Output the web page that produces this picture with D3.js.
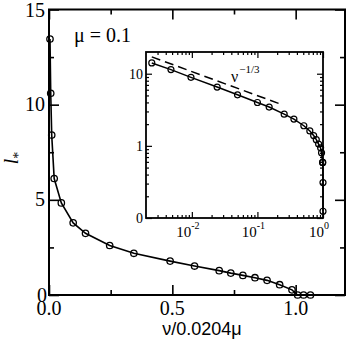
<!DOCTYPE html>
<html>
<head>
<meta charset="utf-8">
<script src="https://cdn.jsdelivr.net/npm/d3@7"></script>
<style>
  body { margin: 0; background: #fff; }
  svg { display: block; }
</style>
</head>
<body>
<div id="chart"></div>
<script>
// main plot: nu / 0.0204mu vs l*
var mainX = [0.004, 0.007, 0.011, 0.021, 0.050, 0.098, 0.148, 0.246, 0.344, 0.491,
             0.590, 0.690, 0.737, 0.786, 0.835, 0.884, 0.935, 0.985, 1.008, 1.032, 1.060];
var mainY = [13.45, 10.6, 8.4, 6.12, 4.84, 3.79, 3.24, 2.60, 2.19, 1.78,
             1.52, 1.28, 1.15, 1.03, 0.91, 0.77, 0.54, 0.27, 0.0, 0.0, 0.0];

// inset (log-log)
var insetX = [0.00245, 0.0048, 0.0097, 0.0243, 0.0497, 0.100, 0.151, 0.256, 0.360, 0.510,
              0.630, 0.720, 0.790, 0.857, 0.919, 0.950, 0.985, 0.992, 1.0, 1.0];
var insetY = [14.1, 11.4, 8.9, 6.53, 5.1, 3.99, 3.45, 2.75, 2.35, 1.90,
              1.61, 1.39, 1.22, 1.06, 0.94, 0.80, 0.59, 0.59, 0.31, 0.124];

// nu^-1/3 guide line end points
var guideX = [0.00245, 0.237];
var guideY = [17.1, 3.73];

var mainXTicks = [0, 0.5, 1.0];
var mainXTickLabels = ["0.0", "0.5", "1.0"];
var mainXMinor = [0.25, 0.75];
var mainYTicks = [0, 5, 10, 15];
var mainYMinor = [2.5, 7.5, 12.5];
var insetXTicks = [0.01, 0.1, 1];
var insetXExp = ["-2", "-1", "0"];
var insetYTicks = [0.1, 1, 10];
var insetYTickLabels = ["0", "1", "10"];

var SERIF = "'Liberation Serif', 'Times New Roman', serif";
var SANS = "'Liberation Sans', Arial, sans-serif";

var W = 349, H = 339;
var svg = d3.select("#chart").append("svg")
    .attr("width", W)
    .attr("height", H);

// ---------- main plot ----------
var x = d3.scaleLinear().domain([0, 1.2]).range([49, 345]);
var y = d3.scaleLinear().domain([0, 15]).range([295, 9.5]);

function addAxis(axis, tx, ty, size, tickVals) {
    var g = svg.append("g")
        .attr("transform", "translate(" + tx + "," + ty + ")")
        .call(axis.tickValues(tickVals).tickSize(size).tickFormat(""));
    g.select(".domain").remove();
    g.selectAll("line").attr("stroke", "#000").attr("stroke-width", 1.6);
    return g;
}

// major and minor ticks, pointing inward, on all four sides
addAxis(d3.axisBottom(x), 0, y(0), -10, mainXTicks);
addAxis(d3.axisBottom(x), 0, y(0), -5, mainXMinor);
addAxis(d3.axisTop(x), 0, y(15), -10, mainXTicks);
addAxis(d3.axisTop(x), 0, y(15), -5, mainXMinor);
addAxis(d3.axisLeft(y), x(0), 0, -10, mainYTicks);
addAxis(d3.axisLeft(y), x(0), 0, -5, mainYMinor);
addAxis(d3.axisRight(y), x(1.2), 0, -10, mainYTicks);
addAxis(d3.axisRight(y), x(1.2), 0, -5, mainYMinor);

svg.append("rect")
    .attr("x", x(0)).attr("y", y(15))
    .attr("width", x(1.2) - x(0)).attr("height", y(0) - y(15))
    .attr("fill", "none").attr("stroke", "#000").attr("stroke-width", 2);

// tick labels
svg.selectAll(".xlab").data(mainXTicks).enter().append("text")
    .style("font-family", SERIF)
    .attr("x", function(d) { return x(d); })
    .attr("y", 315)
    .attr("text-anchor", "middle")
    .attr("font-size", 20)
    .text(function(d, i) { return mainXTickLabels[i]; });

svg.selectAll(".ylab").data(mainYTicks).enter().append("text")
    .style("font-family", SERIF)
    .attr("x", function(d) { return d == 0 ? 47 : 45; })
    .attr("y", function(d) { return d == 15 ? y(d) + 7.5 : y(d) + 6.5; })
    .attr("text-anchor", "end")
    .attr("font-size", 20)
    .text(function(d) { return d; });

// axis titles
svg.append("text")
    .style("font-family", SANS)
    .attr("x", 202).attr("y", 335)
    .attr("text-anchor", "middle")
    .attr("font-size", 18)
    .text("ν/0.0204μ");

var yt = svg.append("text")
    .style("font-family", SERIF)
    .attr("transform", "translate(18,158) rotate(-90)")
    .attr("text-anchor", "middle")
    .attr("font-size", 20);
yt.append("tspan").attr("font-style", "italic").text("l");
yt.append("tspan").attr("font-size", 14).attr("dy", 5).text("*");

svg.append("text")
    .style("font-family", SERIF)
    .attr("x", 74).attr("y", 42)
    .attr("font-size", 20)
    .text("μ = 0.1");

// data
var mainPts = mainX.map(function(d, i) { return [d, mainY[i]]; });
svg.append("path")
    .datum(mainPts)
    .attr("d", d3.line().x(function(d) { return x(d[0]); }).y(function(d) { return y(d[1]); }))
    .attr("fill", "none").attr("stroke", "#000").attr("stroke-width", 1.6);
svg.selectAll(".mpt").data(mainPts).enter().append("circle")
    .attr("cx", function(d) { return x(d[0]); })
    .attr("cy", function(d) { return y(d[1]); })
    .attr("r", 3.2)
    .attr("fill", "none").attr("stroke", "#000").attr("stroke-width", 1.3);

// ---------- inset ----------
var ix = d3.scaleLog().domain([0.002, 1]).range([146, 323]);
var iy = d3.scaleLog().domain([0.1, 20]).range([218, 52]);

// white background for the inset
svg.append("rect")
    .attr("x", 146).attr("y", 52)
    .attr("width", 177).attr("height", 166)
    .attr("fill", "#fff");

var xMinorI = [], yMinorI = [];
[0.001, 0.01, 0.1].forEach(function(dec) {
    for (var k = 2; k <= 9; k++) {
        var v = dec * k;
        if (v > 0.002 && v < 1) xMinorI.push(v);
    }
});
[0.1, 1, 10].forEach(function(dec) {
    for (var k = 2; k <= 9; k++) {
        var v = dec * k;
        if (v > 0.1 && v < 20) yMinorI.push(v);
    }
});

function addInsetAxis(axis, tx, ty, size, tickVals) {
    var g = svg.append("g")
        .attr("transform", "translate(" + tx + "," + ty + ")")
        .call(axis.tickValues(tickVals).tickSize(size).tickFormat(""));
    g.select(".domain").remove();
    g.selectAll("line").attr("stroke", "#000").attr("stroke-width", 1.2);
}
addInsetAxis(d3.axisBottom(ix), 0, 218, -6, insetXTicks);
addInsetAxis(d3.axisBottom(ix), 0, 218, -3, xMinorI);
addInsetAxis(d3.axisTop(ix), 0, 52, -6, insetXTicks);
addInsetAxis(d3.axisTop(ix), 0, 52, -3, xMinorI);
addInsetAxis(d3.axisLeft(iy), 146, 0, -6, insetYTicks);
addInsetAxis(d3.axisLeft(iy), 146, 0, -3, yMinorI);
addInsetAxis(d3.axisRight(iy), 323, 0, -6, insetYTicks);
addInsetAxis(d3.axisRight(iy), 323, 0, -3, yMinorI);

svg.append("rect")
    .attr("x", 146).attr("y", 52)
    .attr("width", 177).attr("height", 166)
    .attr("fill", "none").attr("stroke", "#000").attr("stroke-width", 1.8);

svg.selectAll(".iylab").data(insetYTicks).enter().append("text")
    .style("font-family", SERIF)
    .attr("x", 143)
    .attr("y", function(d) { return iy(d) + 5; })
    .attr("text-anchor", "end")
    .attr("font-size", 14)
    .text(function(d, i) { return insetYTickLabels[i]; });

svg.selectAll(".ixlab").data(insetXTicks).enter().append("text")
    .style("font-family", SERIF)
    .attr("x", function(d) { return ix(d) - 4; })
    .attr("y", 237)
    .attr("text-anchor", "middle")
    .attr("font-size", 15)
    .each(function(d, i) {
        var t = d3.select(this);
        t.append("tspan").text("10");
        t.append("tspan").attr("font-size", 10).attr("dy", -8).text(insetXExp[i]);
    });

// guide line nu^-1/3
var guidePts = guideX.map(function(d, i) { return [d, guideY[i]]; });
svg.append("path")
    .datum(guidePts)
    .attr("d", d3.line().x(function(d) { return ix(d[0]); }).y(function(d) { return iy(d[1]); }))
    .attr("fill", "none").attr("stroke", "#000").attr("stroke-width", 1.5)
    .attr("stroke-dasharray", "9,5");

var gl = svg.append("text")
    .style("font-family", SERIF)
    .attr("x", 231).attr("y", 82)
    .attr("font-size", 16);
gl.append("tspan").text("ν");
gl.append("tspan").attr("font-size", 11).attr("dy", -9).attr("dx", 1).text("−1/3");

var insetPts = insetX.map(function(d, i) { return [d, insetY[i]]; });
svg.append("path")
    .datum(insetPts)
    .attr("d", d3.line().x(function(d) { return ix(d[0]); }).y(function(d) { return iy(d[1]); }))
    .attr("fill", "none").attr("stroke", "#000").attr("stroke-width", 1.5);
svg.selectAll(".ipt").data(insetPts).enter().append("circle")
    .attr("cx", function(d) { return ix(d[0]); })
    .attr("cy", function(d) { return iy(d[1]); })
    .attr("r", 3)
    .attr("fill", "none").attr("stroke", "#000").attr("stroke-width", 1.2);
</script>
</body>
</html>
